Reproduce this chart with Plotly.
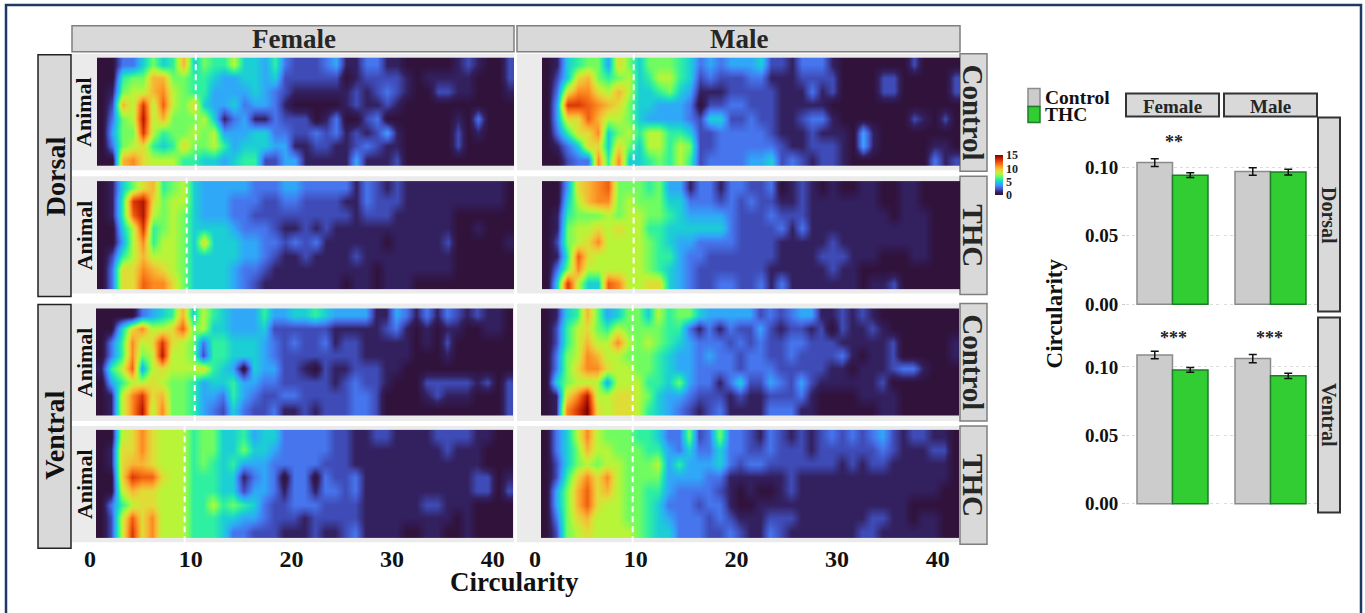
import plotly.graph_objects as go

W, H = 1365, 613
SERIF = "Liberation Serif"

x_ticks = [0, 10, 20, 30, 40]
row_numbers = [1, 2, 3, 4, 5, 6, 7, 8]

dorsal_female_control = [
 [0,0,3,3,5,7,5,6,10,5, 7,6,6,8,5,5,4,6,3,2, 2,2,3,4,1,1,3,3,1,1, 0,0,0,0,0,1,2,1,0,0,2],
 [0,0,6,7,7,10,10,7,7,6, 6,5,4,4,5,5,4,5,2,2, 2,2,2,2,0,1,2,2,2,2, 1,0,1,1,1,1,1,0,0,0,2],
 [0,1,7,8,8,10,11,8,7,6, 6,4,4,4,4,5,4,3,2,1, 1,1,1,1,1,2,1,2,3,2, 1,0,0,2,2,1,1,0,0,0,1],
 [0,2,10,8,13,8,12,8,7,9, 5,4,4,5,3,4,4,3,1,0, 0,0,0,0,1,2,1,1,2,1, 0,0,0,0,0,0,0,0,0,0,0],
 [0,3,7,8,14,8,10,7,7,7, 8,5,1,3,4,1,1,3,2,2, 2,0,1,3,0,0,2,3,0,0, 0,0,0,0,0,1,0,3,0,0,0],
 [0,4,7,7,13,8,6,7,7,8, 7,8,4,4,4,5,5,3,3,2, 2,3,2,3,1,2,1,2,4,1, 0,0,0,0,0,2,0,1,0,0,0],
 [0,3,7,8,9,6,5,6,9,7, 7,8,6,4,5,5,5,4,4,1, 1,2,2,1,1,2,3,2,1,1, 0,0,0,0,0,2,0,0,0,0,0],
 [0,0,10,11,9,8,8,8,6,6, 5,5,4,5,6,6,2,2,4,4, 1,1,1,1,1,4,1,1,1,2, 0,0,0,0,0,0,0,0,0,0,0],
]
dorsal_female_thc = [
 [0,1,5,7,9,10,6,7,8,5, 4,4,4,4,4,3,3,3,4,4, 3,3,3,3,3,1,3,2,1,2, 1,1,1,1,1,1,1,1,1,1,0],
 [0,1,6,13,14,9,7,8,8,5, 4,4,4,3,3,3,2,2,3,3, 2,2,2,2,1,1,3,2,2,2, 1,1,1,1,1,1,1,1,1,1,0],
 [0,1,6,12,14,8,7,8,7,5, 4,4,4,3,3,2,2,2,2,2, 2,2,2,2,2,1,2,2,2,1, 1,1,1,1,1,0,0,0,0,0,0],
 [0,0,5,8,13,6,7,8,7,5, 5,5,5,4,3,3,3,2,1,1, 2,1,2,1,1,1,1,1,1,1, 1,1,1,1,1,0,0,1,0,0,0],
 [0,0,4,8,11,6,8,8,7,5, 9,5,5,5,4,4,3,3,2,3, 2,3,1,1,1,1,1,1,0,1, 1,1,1,1,2,0,0,0,0,0,1],
 [0,2,6,8,10,8,8,8,7,5, 5,5,5,5,4,4,3,2,1,1, 2,1,1,1,1,2,1,1,1,1, 1,1,1,1,1,0,0,0,0,0,0],
 [0,3,9,9,11,10,9,8,7,5, 5,5,5,4,3,3,2,1,1,1, 1,1,1,1,1,1,1,0,1,1, 1,1,1,1,1,0,0,0,0,0,0],
 [0,3,9,9,12,11,11,9,7,5, 5,5,5,4,3,2,1,1,1,1, 1,1,1,1,0,1,1,0,1,1, 1,0,0,0,0,0,0,0,0,0,0],
]
dorsal_male_control = [
 [0,1,5,6,7,7,4,9,7,5, 7,7,7,6,5,3,4,3,4,4, 4,5,2,2,1,3,3,3,1,0, 0,0,0,0,0,0,2,0,0,0,0],
 [0,2,5,9,10,7,6,7,8,5, 6,8,8,6,5,2,3,2,2,2, 3,3,1,1,1,2,2,2,2,0, 0,0,0,2,2,0,0,0,0,0,2],
 [0,3,9,11,11,9,8,10,8,5, 5,6,7,5,4,1,1,1,2,2, 2,2,2,1,1,1,3,1,2,0, 0,0,0,2,2,0,0,0,0,0,2],
 [0,4,13,13,12,11,10,9,7,5, 5,4,4,4,3,0,2,2,3,3, 2,2,2,1,1,1,1,1,0,0, 0,0,0,0,0,0,0,0,0,0,0],
 [0,4,9,9,12,10,8,8,7,5, 4,4,4,4,3,2,5,5,2,2, 3,2,2,1,1,2,3,3,1,0, 0,0,0,0,0,0,2,1,0,2,0],
 [0,3,6,9,9,11,5,7,8,6, 8,8,6,6,5,2,2,3,3,3, 3,3,2,1,1,1,2,1,1,1, 0,4,1,0,0,0,0,0,0,0,0],
 [0,1,3,5,9,9,5,9,7,5, 8,8,6,8,7,2,2,3,3,3, 3,3,3,2,1,1,2,2,2,1, 0,4,1,0,0,0,0,0,1,1,0],
 [0,0,2,3,3,11,6,11,5,5, 6,7,6,8,6,2,3,3,3,3, 4,4,5,2,3,2,1,2,2,1, 0,0,0,0,0,0,0,0,3,1,2],
]
dorsal_male_thc = [
 [0,0,4,9,10,11,12,7,7,7, 6,7,4,4,1,3,3,1,3,3, 2,2,3,0,1,2,1,0,1,0, 0,1,1,0,0,1,1,0,0,0,0],
 [0,0,5,8,10,11,11,7,8,7, 7,7,5,5,3,3,3,2,3,2, 3,2,2,1,1,2,1,1,1,1, 1,1,1,0,0,1,1,0,0,0,0],
 [0,1,6,7,7,7,8,7,8,8, 7,7,6,5,4,4,4,4,3,2, 2,2,3,2,2,2,1,1,1,1, 1,1,1,1,0,1,1,1,0,0,0],
 [0,1,7,8,8,9,8,9,8,8, 6,6,5,5,5,5,5,5,3,2, 2,2,2,3,1,3,1,1,1,1, 1,1,1,1,1,1,1,1,0,0,0],
 [0,2,7,8,9,11,8,8,8,8, 7,6,5,4,4,3,3,3,3,2, 2,2,2,1,1,1,1,1,2,1, 1,1,1,1,1,1,1,1,0,0,0],
 [0,1,6,12,9,8,8,8,8,8, 7,6,6,4,3,3,2,2,2,2, 2,2,2,1,1,1,1,2,2,2, 1,1,1,0,0,0,1,1,0,0,0],
 [0,3,7,11,8,8,8,8,8,8, 7,6,5,4,3,2,2,2,2,2, 2,2,1,1,1,1,1,1,2,1, 1,0,0,0,0,0,0,0,0,0,0],
 [0,5,13,8,5,5,12,11,8,8, 9,9,5,4,3,2,2,3,3,2, 2,3,1,3,1,1,1,1,1,1, 1,0,1,1,2,0,0,0,0,0,0],
]
ventral_female_control = [
 [0,0,0,0,3,4,5,6,10,5, 8,6,5,4,4,4,6,4,4,5, 5,6,5,4,4,4,4,1,1,4, 3,1,3,1,3,2,1,2,1,1,0],
 [0,0,5,9,11,8,8,9,12,7, 8,5,5,4,4,4,5,2,2,2, 2,2,2,1,1,1,1,1,2,3, 1,0,1,0,1,1,0,0,1,1,0],
 [0,3,6,11,8,9,13,9,8,7, 3,6,6,5,5,5,4,3,2,3, 2,2,3,1,2,2,1,1,1,1, 1,0,1,0,2,0,0,0,0,0,0],
 [0,3,6,11,7,8,14,8,8,7, 2,6,6,5,5,5,4,3,2,2, 2,2,2,2,2,2,1,1,1,1, 1,0,0,0,1,0,0,0,0,0,0],
 [1,6,8,12,4,8,9,8,8,8, 9,6,5,4,0,5,4,4,2,2, 1,0,2,1,1,2,2,2,1,1, 0,0,0,0,0,0,0,0,0,0,0],
 [0,4,6,8,8,9,8,7,7,6, 4,5,5,6,4,4,3,3,2,2, 2,2,2,1,2,3,2,2,1,0, 0,0,2,2,2,2,2,1,2,0,2],
 [0,1,8,11,13,9,10,7,7,6, 4,4,3,6,4,3,2,2,3,3, 2,2,2,2,2,3,3,2,0,0, 0,0,1,2,1,1,1,0,0,0,2],
 [0,1,8,11,14,8,11,7,7,6, 4,3,2,5,3,2,2,3,1,1, 2,1,2,2,2,3,3,2,0,0, 0,0,0,0,0,0,0,0,0,0,2],
]
ventral_female_thc = [
 [0,0,8,9,11,9,8,8,8,6, 7,7,5,5,6,4,5,5,3,3, 3,3,3,2,2,1,1,2,2,1, 1,1,1,2,2,2,2,1,1,0,0],
 [0,1,9,9,11,9,8,8,8,6, 7,7,5,5,7,5,5,4,3,3, 3,3,3,2,2,1,1,1,1,1, 1,1,1,1,2,1,1,1,0,0,0],
 [0,1,9,10,10,9,8,8,8,6, 7,6,5,6,4,4,4,3,3,3, 3,3,2,2,2,1,1,1,1,1, 1,1,1,1,1,1,1,1,0,0,0],
 [0,0,9,13,12,12,9,8,8,6, 6,6,5,5,1,3,4,3,0,3, 3,0,3,2,2,3,1,1,1,1, 1,1,1,1,1,1,1,2,2,0,1],
 [0,0,8,10,9,9,8,8,8,6, 6,6,5,5,2,4,4,3,1,3, 3,1,3,3,2,3,1,1,1,1, 1,1,1,1,1,1,1,2,2,0,2],
 [0,3,6,8,9,9,8,8,8,6, 6,8,6,7,6,5,3,2,2,3, 3,3,2,2,2,2,1,1,1,1, 1,1,2,2,1,1,1,0,0,0,0],
 [0,2,8,12,9,11,8,8,8,6, 6,6,5,5,4,4,3,2,2,2, 1,2,2,2,2,2,1,1,1,1, 1,1,1,1,1,0,1,0,0,0,0],
 [0,2,8,13,9,11,8,8,8,6, 6,6,5,3,3,2,2,2,1,1, 1,2,1,1,2,3,1,1,1,1, 0,0,1,1,0,0,1,0,0,0,0],
]
ventral_male_control = [
 [0,1,5,6,10,7,4,5,7,7, 5,8,6,7,7,5,4,4,4,4, 4,2,3,2,3,4,4,1,1,2, 1,2,1,0,0,0,0,0,0,0,0],
 [0,2,6,8,9,7,6,8,7,7, 7,7,6,6,3,1,3,1,3,2, 2,4,2,1,2,2,1,2,0,2, 1,1,2,1,0,0,0,0,0,0,0],
 [0,2,6,8,10,8,8,11,8,7, 8,7,6,5,4,3,3,3,2,3, 2,3,2,2,3,3,2,2,2,1, 1,1,1,1,2,0,0,0,0,0,1],
 [0,3,7,8,11,10,8,8,7,7, 7,6,5,4,4,3,4,3,3,2, 3,3,2,2,3,2,2,2,2,3, 1,0,1,1,2,0,0,0,0,0,1],
 [0,3,7,9,11,11,9,8,8,7, 7,6,5,4,4,3,3,3,3,2, 3,3,3,2,2,2,2,2,1,1, 0,1,1,1,2,3,3,1,0,0,0],
 [0,5,7,8,8,8,4,8,8,8, 6,6,5,7,4,3,3,1,3,5, 2,2,4,3,2,4,2,1,1,1, 1,1,1,2,0,0,0,0,0,0,0],
 [0,1,9,11,14,8,8,9,9,8, 7,5,4,4,3,2,2,2,1,2, 1,1,2,2,2,3,1,0,0,0, 0,1,1,1,1,0,0,0,0,0,0],
 [0,1,11,13,15,9,8,9,9,8, 6,5,4,3,2,1,2,3,1,1, 1,1,3,3,3,1,1,0,0,0, 0,0,0,1,1,0,0,0,0,0,0],
]
ventral_male_thc = [
 [0,3,5,8,11,8,7,7,7,6, 6,5,3,3,7,2,3,7,3,3, 2,1,3,2,1,2,1,2,3,2, 3,2,3,4,2,1,2,2,1,1,0],
 [0,3,5,7,10,8,8,7,7,7, 6,6,4,3,5,3,3,5,3,3, 2,2,3,2,2,2,1,2,2,2, 2,2,2,3,2,1,1,1,2,2,0],
 [0,2,5,7,8,7,8,8,7,7, 7,8,4,6,4,4,4,5,3,2, 3,3,2,2,2,2,2,2,2,1, 2,1,2,2,1,1,1,1,1,1,0],
 [0,2,6,9,11,9,11,8,7,7, 7,7,4,4,4,4,3,3,1,1, 1,1,1,1,2,1,1,1,1,1, 1,1,1,1,1,1,1,1,1,1,0],
 [0,4,7,10,12,9,10,8,7,7, 6,6,4,3,3,3,3,2,1,0, 1,0,0,1,2,1,1,1,1,1, 1,1,1,1,1,1,1,1,1,0,0],
 [0,4,7,10,12,9,8,8,7,7, 6,5,3,3,3,2,3,3,1,0, 0,1,1,1,1,1,1,1,1,1, 1,1,1,1,1,1,0,0,0,0,0],
 [0,3,7,9,10,8,8,8,7,7, 6,5,4,3,3,3,2,3,2,1, 1,1,2,2,2,1,1,1,1,1, 1,1,2,2,1,1,0,1,1,0,0],
 [0,2,7,8,9,8,8,8,8,7, 6,5,5,3,3,3,2,2,3,2, 1,1,3,2,1,1,1,1,1,1, 1,2,2,1,1,1,1,1,1,0,0],
]

# dashed threshold
dash_values = [10.5, 9.6, 9.8, 9.8, 10.4, 9.4, 9.7, 9.7]

bar_groups = ["Control", "THC"]
dorsal_female_means = [0.1036, 0.0944]
dorsal_male_means = [0.0971, 0.0966]
ventral_female_means = [0.1087, 0.0978]
ventral_male_means = [0.1061, 0.0935]
dorsal_female_err = [0.0028, 0.0017]
dorsal_male_err = [0.0027, 0.0021]
ventral_female_err = [0.0028, 0.0018]
ventral_male_err = [0.0030, 0.0019]
bar_ticks = [0, 0.05, 0.1]

GRAY, GREEN = "#cccccc", "#32cd32"
heat_colors = ["#30123b", "#33205f", "#3f4cb8", "#4675ed", "#30a8f8", "#1bcfd4", "#2ff0a0", "#70fc60",
               "#b8f538", "#e0dc36", "#f7b634", "#fb8a20", "#f05f12", "#d93806", "#b01802", "#7a0402"]
heat_scale = [[i / 15, c] for i, c in enumerate(heat_colors)]

def px(x):
    return x / W

def py(y):
    return 1 - y / H

fig = go.Figure()
shapes, anns = [], []

def rect(x0, y0, x1, y1, fill, line=None, lw=0):
    shapes.append(dict(type="rect", xref="paper", yref="paper", layer="below",
                       x0=px(x0), x1=px(x1), y0=py(y1), y1=py(y0),
                       fillcolor=fill, line=dict(color=line or fill, width=lw)))

def label(x, y, text, size, angle=0, color="#111111", xanchor="center"):
    anns.append(dict(xref="paper", yref="paper", x=px(x), y=py(y), text=text, showarrow=False,
                     xanchor=xanchor, yanchor="middle", textangle=angle,
                     font=dict(family=SERIF, size=size, color=color, weight="bold")))

# page frame
shapes.append(dict(type="rect", xref="paper", yref="paper", layer="below",
                   x0=px(6), x1=px(1361), y0=py(640), y1=py(5),
                   fillcolor="white", line=dict(color="#1f3864", width=2.5)))

# (values, bg x0, bg y0, bg x1, bg y1, heat x0, heat y0, heat x1, heat y1, pixel of tick 0, show ticks)
FEMALE_0, MALE_0, UNIT = 90.0, 535.0, 10.07
panels = [
    (dorsal_female_control, 72, 54, 514, 171, 97, 58, 514, 167, FEMALE_0, False),
    (dorsal_female_thc, 72, 177, 514, 295, 97, 182, 514, 291, FEMALE_0, False),
    (dorsal_male_control, 517, 54, 960, 171, 542, 58, 960, 167, MALE_0, False),
    (dorsal_male_thc, 517, 177, 960, 295, 542, 182, 960, 291, MALE_0, False),
    (ventral_female_control, 72, 305, 514, 423, 96, 310, 513, 418, FEMALE_0, False),
    (ventral_female_thc, 72, 428, 514, 545, 96, 432, 513, 541, FEMALE_0, True),
    (ventral_male_control, 517, 305, 960, 423, 541, 310, 959, 418, MALE_0, False),
    (ventral_male_thc, 517, 428, 960, 545, 541, 432, 959, 541, MALE_0, True),
]

axis_layout = {}
for i, p in enumerate(panels):
    vals, bx0, by0, bx1, by1, hx0, hy0, hx1, hy1, zero, ticks = p
    n = i + 1
    xa, ya = f"x{n}", f"y{n}"
    rect(bx0, by0, bx1, by1, "#ebebeb")
    cell = (hx1 - hx0) / len(vals[0]) / UNIT
    first = (hx0 - zero) / UNIT + cell / 2
    rowh = (hy1 - hy0) / len(vals)
    fig.add_trace(go.Heatmap(z=vals, x0=first, dx=cell, y=row_numbers, coloraxis="coloraxis",
                             zsmooth="best", xaxis=xa, yaxis=ya, hoverinfo="skip"))
    y_range = [8.5 + (by1 - hy1) / rowh, 0.5 - (hy0 - by0) / rowh]
    fig.add_trace(go.Scatter(x=[dash_values[i], dash_values[i]], y=y_range, mode="lines",
                             line=dict(color="white", width=2, dash="6px,4px"),
                             xaxis=xa, yaxis=ya, showlegend=False, hoverinfo="skip"))
    axis_layout[f"xaxis{n}"] = dict(
        domain=[px(bx0), px(bx1)], anchor=ya,
        range=[(bx0 - zero) / UNIT, (bx1 - zero) / UNIT],
        showgrid=False, zeroline=False, showline=False, ticks="",
        tickvals=x_ticks, showticklabels=ticks, ticklabelstandoff=0,
        tickfont=dict(family=SERIF, size=24, color="#111111", weight="bold"))
    axis_layout[f"yaxis{n}"] = dict(
        domain=[py(by1), py(by0)], anchor=xa, range=y_range,
        showgrid=False, zeroline=False, showline=False, ticks="", showticklabels=False)
    if zero == FEMALE_0:
        label(bx0 + 12, (hy0 + hy1) / 2, "Animal", 22, angle=-90)

# heatmap strips
for x0, x1, cx, t in [(72, 514, 294, "Female"), (517, 960, 739, "Male")]:
    rect(x0, 26, x1, 52, "#d9d9d9", "#7f7f7f", 1.5)
    label(cx, 39, t, 27, color="#262626")
for y0, y1, t in [(54, 172, "Control"), (177, 296, "THC"), (305, 423, "Control"), (428, 547, "THC")]:
    rect(960, y0, 987, y1, "#d9d9d9", "#7f7f7f", 1.5)
    label(973, (y0 + y1) / 2, t, 29, angle=90, color="#262626")
for y0, y1, t, cy in [(55, 298, "Dorsal", 177), (306, 551, "Ventral", 438)]:
    rect(38, y0, 71, y1, "#d9d9d9", "#222222", 1.5)
    label(55, cy, t, 28, angle=-90)

label(514, 585, "Circularity", 27)

# bars
bar_panels = [
    (dorsal_female_means, dorsal_female_err, 1126, 1219, 118, 313, 305.7, 168.3, True),
    (dorsal_male_means, dorsal_male_err, 1224, 1317, 118, 313, 305.7, 168.3, False),
    (ventral_female_means, ventral_female_err, 1126, 1219, 319, 515, 506.3, 368.7, True),
    (ventral_male_means, ventral_male_err, 1224, 1317, 319, 515, 506.3, 368.7, False),
]
for j, b in enumerate(bar_panels):
    means, errs, dx0, dx1, dy0, dy1, y_zero, y_tenth, lab = b
    n = 9 + j
    xa, ya = f"x{n}", f"y{n}"
    for k, grp in enumerate(bar_groups):
        fig.add_trace(go.Bar(
            x=[grp], y=[means[k]], width=1, xaxis=xa, yaxis=ya, showlegend=False,
            marker=dict(color=GRAY if k == 0 else GREEN,
                        line=dict(color="#8a8a8a" if k == 0 else "#1f7a2a", width=1.5)),
            error_y=dict(type="data", array=[errs[k]], color="#111111", thickness=1.5, width=4)))
    per = (y_zero - y_tenth) / 0.1
    axis_layout[f"xaxis{n}"] = dict(
        domain=[px(dx0), px(dx1)], anchor=ya, type="category",
        categoryorder="array", categoryarray=bar_groups,
        range=[-0.81, 1.81], visible=False)
    axis_layout[f"yaxis{n}"] = dict(
        domain=[py(dy1), py(dy0)], anchor=xa,
        range=[(y_zero - dy1) / per, (y_zero - dy0) / per],
        tickvals=bar_ticks, tickformat=".2f", showticklabels=lab,
        showgrid=True, gridcolor="#dddddd", griddash="dot", gridwidth=1,
        zeroline=False, showline=False,
        ticks="outside" if lab else "", ticklen=3, tickcolor="#cccccc",
        tickfont=dict(family=SERIF, size=19, color="#111111", weight="bold"))

for x0, x1, cx, t in [(1126, 1219, 1172, "Female"), (1224, 1317, 1270, "Male")]:
    rect(x0, 94, x1, 117, "#d9d9d9", "#333333", 2)
    label(cx, 107, t, 19, color="#262626")
for y0, y1, t, cy in [(118, 313, "Dorsal", 216), (319, 515, "Ventral", 417)]:
    rect(1318, y0, 1340, y1, "#d9d9d9", "#333333", 2)
    label(1329, cy, t, 20, angle=90, color="#262626")

label(1054, 315, "Circularity", 23, angle=-90)
label(1174, 143, "**", 18, color="#222222")
label(1173, 340, "***", 18, color="#222222")
label(1269, 340, "***", 18, color="#222222")

# legend
rect(1028, 89, 1040, 107, GRAY, "#8a8a8a", 1.5)
rect(1028, 107, 1040, 123, GREEN, "#1f7a2a", 1.5)
label(1043, 98, "Control", 19.5, xanchor="left")
label(1043, 115, "THC", 19.5, xanchor="left")

layout = dict(
    width=W, height=H, margin=dict(l=0, r=0, t=0, b=0), autosize=False,
    paper_bgcolor="white", plot_bgcolor="rgba(0,0,0,0)", showlegend=False, barmode="overlay",
    shapes=shapes, annotations=anns,
    coloraxis=dict(
        colorscale=heat_scale, cmin=0, cmax=15,
        colorbar=dict(
            x=px(995), xanchor="left", y=py(176), yanchor="middle",
            thickness=8, thicknessmode="pixels", len=40, lenmode="pixels",
            xpad=0, ypad=0, outlinewidth=0, ticks="", tickvals=[0, 5, 10, 15],
            tickfont=dict(family=SERIF, size=12, color="#222222", weight="bold"))),
)
layout.update(axis_layout)
fig.update_layout(**layout)

fig.write_html("out.html", config={"displayModeBar": False},
               post_script="document.body.style.margin='0';document.body.style.overflow='hidden';")
